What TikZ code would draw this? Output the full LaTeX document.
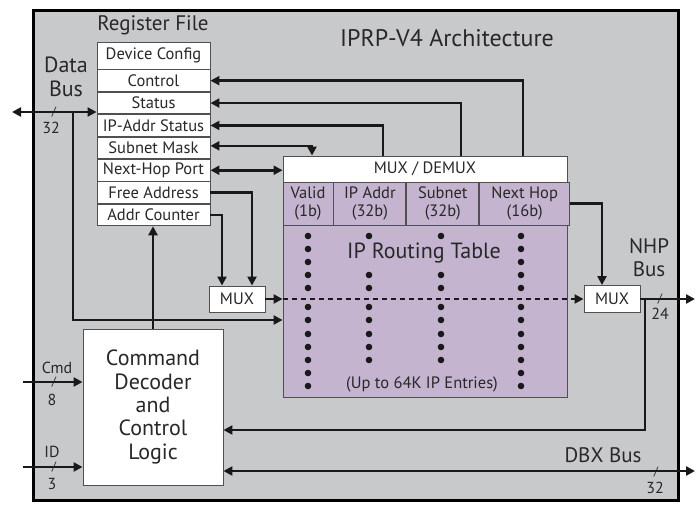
\documentclass[tikz,border=0pt]{standalone}
\usepackage{fontspec}
\setmainfont{PT Sans}
\usepackage{xcolor}
\usetikzlibrary{arrows.meta,positioning}

\definecolor{panelgray}{RGB}{200,201,203}
\definecolor{tablepurple}{RGB}{197,180,208}
\definecolor{edgegray}{RGB}{80,80,80}
\definecolor{inkgray}{RGB}{40,40,40}

\newcommand{\fsz}[1]{\fontsize{#1}{#1}\selectfont}

\begin{document}
\begin{tikzpicture}[
  x=1pt, y=-1pt,
  node distance=0pt,
  bustip/.tip={Triangle[length=9pt,width=9pt]},
  box/.style={draw=edgegray, line width=0.9pt, fill=white, inner sep=0pt, align=center, text=inkgray, font=\fsz{16.5}},
  reg/.style={box, minimum width=113pt, minimum height=21.5pt},
  field/.style={box, fill=tablepurple, minimum height=43pt, font=\fontsize{16.5}{18}\selectfont},
  muxbox/.style={box, minimum width=56pt, minimum height=26pt},
  label/.style={inner sep=0pt, align=center, text=inkgray},
  width/.style={inner sep=0pt, text=inkgray, font=\fsz{16}},
  tick/.style={inner sep=0pt, text=inkgray, font=\fsz{12}},
  bus/.style={line width=2.6pt, draw=black!90},
  arrow/.style={bus, -bustip},
  back/.style={bus, bustip-},
  twoway/.style={bus, bustip-bustip},
  dot/.style={fill=black!90}
]
\fill[white] (0,0) rectangle (696,514);
\useasboundingbox (0,0) rectangle (696,514);
\draw[fill=panelgray, line width=3pt] (33,10) rectangle (678,500);

\node[label, font=\fsz{24}] (title) at (447,38) {IPRP-V4 Architecture};

% register file
\node[label, font=\fsz{21}] (regtitle) at (153,25) {Register File};
\node[reg, minimum height=27pt] (devcfg) at (153.5,55.5) {Device Config};
\node[reg, below=of devcfg] (control) {Control};
\node[reg, below=of control] (status) {Status};
\node[reg, below=of status] (ipstat) {IP-Addr Status};
\node[reg, below=of ipstat] (subnet) {Subnet Mask};
\node[reg, below=of subnet] (nexthop) {Next-Hop Port};
\node[reg, below=of nexthop] (freeaddr) {Free Address};
\node[reg, below=of freeaddr] (addrcnt) {Addr Counter};

% routing table
\node[box, minimum width=284pt, minimum height=26pt] (demux) at (425,169) {MUX / DEMUX};
\node[field, minimum width=50pt] (fvalid) at (308,203.5) {Valid\\(1b)};
\node[field, minimum width=72pt, right=of fvalid] (faddr) {IP Addr\\(32b)};
\node[field, minimum width=72pt, right=of faddr] (fsubnet) {Subnet\\(32b)};
\node[field, minimum width=90pt, right=of fsubnet] (fnexthop) {Next Hop\\(16b)};
\node[box, fill=tablepurple, minimum width=284pt, minimum height=172pt] (rtable) at (425,311) {};

\foreach \x in {308,521}
  \foreach \y in {236,249,262,275,288,307,320,334,347,360,373,386}
    \fill[dot] (\x,\y) circle (3.3);
\foreach \x in {369,441}
  \foreach \y in {236,275,288,307,320,334,347,360}
    \fill[dot] (\x,\y) circle (3.3);

\node[label, font=\fsz{22}] (rtitle) at (424,253) {IP Routing Table};
\node[label, font=\fsz{16.5}] (entries) at (422,384) {(Up to 64K IP Entries)};

\node[muxbox] (lmux) at (237,299) {MUX};
\node[muxbox, minimum height=27pt] (nmux) at (612,299) {MUX};

% command decoder
\node[box, minimum width=140pt, minimum height=156pt, font=\fontsize{22}{23.3}\selectfont] (decoder) at (153,407) {Command\\Decoder\\and\\Control\\Logic};

% bus end points
\coordinate (datain) at (12,112);
\coordinate (datatap) at (73,112);
\coordinate (cmdin) at (23,382);
\coordinate (idin) at (23,467);
\coordinate (nhptap) at (645,299);
\coordinate (nhpout) at (695,299);
\coordinate (dbxout) at (695,471);

\draw[twoway] (datain) -- (datain -| ipstat.west);
\draw[arrow] (datatap) |- ([yshift=-9pt]rtable.west);

\draw[back] (control.east) -| ([xshift=98pt]demux.north);
\draw[back] (status.east) -| ([xshift=36pt]demux.north);
\draw[back] (ipstat.east) -| ([xshift=-42pt]demux.north);
\draw[twoway] ([yshift=2pt]subnet.east) -| ([xshift=-113pt]demux.north);
\draw[twoway] (nexthop.east) -- (nexthop.east -| demux.west);

\draw[arrow] (freeaddr.east) -| ([xshift=15pt]lmux.north);
\draw[arrow] (addrcnt.east) -| ([xshift=-15pt]lmux.north);
\draw[arrow] (decoder.north) -- (decoder.north |- addrcnt.south);

\draw[arrow] (lmux.east) -- (lmux.east -| rtable.west);
\draw[bus, line width=2pt, dash pattern=on 5pt off 4pt, -bustip] (lmux.east -| rtable.west) -- (nmux.west);
\draw[arrow] (fnexthop.east) -| ([xshift=-10pt]nmux.north);
\draw[arrow] (nmux.east) -- (nhpout);
\draw[arrow] (nhptap) |- ([yshift=-23pt]decoder.east);
\draw[twoway] (dbxout -| decoder.east) -- (dbxout);

\draw[arrow] (cmdin) -- (cmdin -| decoder.west);
\draw[arrow] (idin) -- (idin -| decoder.west);

% bus labels
\node[label, font=\fontsize{22}{24}\selectfont] (datalbl) at (66,77) {Data\\Bus};
\node[tick] at (54,112) {/};
\node[width] at (51,128) {32};
\node[label, font=\fsz{16}] (cmdlbl) at (57,368) {Cmd};
\node[tick] at (54,382) {/};
\node[width] (cmdw) at (52,400) {8};
\node[label, font=\fsz{16}] (idlbl) at (52,452) {ID};
\node[tick] at (54,467) {/};
\node[width] (idw) at (52,484) {3};
\node[label, font=\fontsize{21}{23}\selectfont] (nhplbl) at (649,258) {NHP\\Bus};
\node[tick] at (660,299) {/};
\node[width] at (660,314) {24};
\node[label, font=\fsz{21}] (dbxlbl) at (603,455) {DBX Bus};
\node[tick] at (656,472) {/};
\node[width] at (655,488) {32};
\end{tikzpicture}
\end{document}
